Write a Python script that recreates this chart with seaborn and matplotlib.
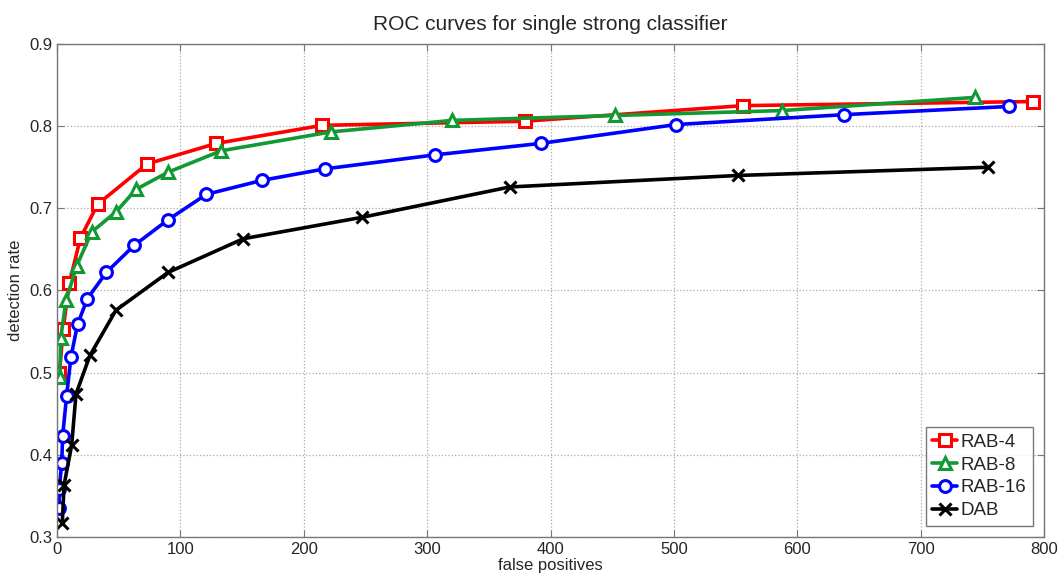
import pandas as pd
import numpy as np
import seaborn as sns
import matplotlib
matplotlib.use('Agg')
import matplotlib.pyplot as plt

# values
rab4_fp = [2, 5, 10, 19, 33, 73, 129, 215, 379, 556, 791]
rab4_dr = [0.500, 0.553, 0.609, 0.664, 0.705, 0.754, 0.779, 0.801, 0.806, 0.825, 0.830]

rab8_fp = [2.4, 3, 7.3, 16, 28, 48, 64, 90, 133, 222, 320, 452, 588, 744]
rab8_dr = [0.495, 0.542, 0.588, 0.630, 0.671, 0.696, 0.723, 0.744, 0.770, 0.793, 0.807, 0.813, 0.819, 0.835]

rab16_fp = [1.6, 1.8, 3.8, 4.6, 7.8, 11.3, 16.7, 24.6, 40, 62.6, 90, 121, 166, 217, 306, 392, 502, 638, 772]
rab16_dr = [0.335, 0.358, 0.390, 0.423, 0.472, 0.519, 0.559, 0.590, 0.622, 0.655, 0.686, 0.717, 0.734, 0.748, 0.765, 0.779, 0.802, 0.814, 0.824]

dab_fp = [4.3, 5.7, 11.9, 15.4, 26.7, 47.8, 90, 151, 247, 367, 552, 755]
dab_dr = [0.317, 0.363, 0.412, 0.474, 0.521, 0.576, 0.622, 0.663, 0.689, 0.726, 0.740, 0.750]

names = ['RAB-4', 'RAB-8', 'RAB-16', 'DAB']
colors = ['#ff0000', '#119933', '#0000ff', '#000000']
marks = ['s', '^', 'o', 'x']

frames = []
for n, fp, dr in zip(names, [rab4_fp, rab8_fp, rab16_fp, dab_fp], [rab4_dr, rab8_dr, rab16_dr, dab_dr]):
    frames.append(pd.DataFrame({'fp': fp, 'dr': dr, 'method': n}))
df = pd.concat(frames, ignore_index=True)

sns.set_style('ticks')
plt.rcParams['font.family'] = ['Liberation Sans', 'DejaVu Sans']

fig = plt.figure(figsize=(10.64, 5.82), dpi=100)
ax = fig.add_axes([57/1064, 1 - 537/582, (1044-57)/1064, (537-44)/582])

for n, c, m in zip(names, colors, marks):
    sns.lineplot(data=df[df['method'] == n], x='fp', y='dr', color=c, marker=m,
                 markersize=8.5, markerfacecolor='white' if m != 'x' else c,
                 markeredgecolor=c, markeredgewidth=2.2, linewidth=2.6,
                 label=n, ax=ax, sort=False)

ax.set_xlim(0, 800)
ax.set_ylim(0.3, 0.9)
ax.set_xticks(np.arange(0, 801, 100))
ax.set_yticks(np.arange(0.3, 0.91, 0.1))
ax.set_yticklabels(['0.3', '0.4', '0.5', '0.6', '0.7', '0.8', '0.9'])
ax.grid(True, linestyle=':', color='#aaaaaa', linewidth=0.9)
ax.tick_params(direction='in', labelsize=12, length=5, color='#777777', top=True, right=True)
for s in ax.spines.values():
    s.set_color('#777777')
    s.set_linewidth(1)

ax.set_xlabel('false positives', fontsize=12, labelpad=1)
ax.set_ylabel('detection rate', fontsize=12, labelpad=4)
ax.set_title('ROC curves for single strong classifier', fontsize=15, pad=10)

leg = ax.legend(loc='lower right', fontsize=13.5, frameon=True, fancybox=False,
                handlelength=1.3, handletextpad=0.2, borderpad=0.35, labelspacing=0.3,
                borderaxespad=0.6)
leg.get_frame().set_edgecolor('#555555')
leg.get_frame().set_linewidth(1)

fig.savefig('out.png', dpi=100)
